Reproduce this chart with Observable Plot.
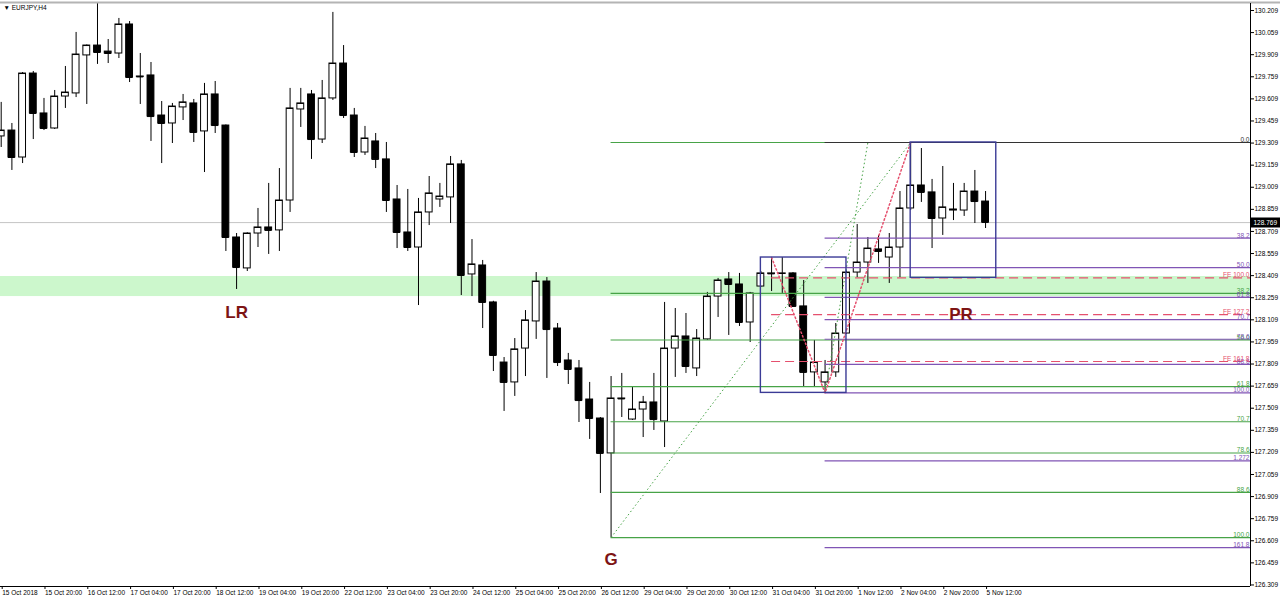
<!DOCTYPE html>
<html><head><meta charset="utf-8">
<script src="https://cdn.jsdelivr.net/npm/d3@7"></script>
<script src="https://cdn.jsdelivr.net/npm/@observablehq/plot@0.6"></script>
<style>
html,body{margin:0;padding:0;background:#fff;}
#chart{position:relative;width:1280px;height:602px;overflow:hidden;}
</style></head><body><div id="chart"></div>
<script>
// EURJPY H4 candles (bar index 0 = first visible bar)
const opens = [129.354,129.394,129.211,129.781,129.510,129.408,129.625,129.646,129.904,129.971,
129.930,129.917,130.114,129.761,129.768,129.496,129.442,129.551,129.578,129.388,
129.639,129.428,128.668,128.458,128.695,128.736,128.716,128.919,129.537,129.639,
129.333,129.612,129.849,129.496,129.245,129.320,129.198,128.926,128.702,128.600,
128.838,128.926,128.940,129.164,128.417,128.478,128.227,127.819,127.684,127.914,
128.098,128.369,128.050,127.833,127.779,127.568,127.439,127.202,127.575,127.432,
127.500,127.548,127.419,127.914,127.996,127.779,127.976,128.267,128.383,128.349,
128.091,128.335,128.424,128.421,128.424,128.200,127.752,127.684,127.752,128.016,
128.430,128.498,128.587,128.532,128.600,128.865,129.021,128.974,128.797,128.851,
128.851,128.980,128.912];
const highs = [129.585,129.442,129.788,129.795,129.612,129.666,129.829,130.060,129.975,130.257,
130.012,130.155,130.134,129.917,129.856,129.591,129.578,129.639,129.605,129.714,
129.727,129.432,128.695,128.700,128.865,129.035,129.136,129.680,129.680,129.666,
129.734,130.196,129.971,129.544,129.422,129.374,129.313,129.021,128.994,128.933,
129.082,129.035,129.218,129.191,128.654,128.512,128.235,127.853,127.982,128.172,
128.430,128.396,128.084,127.881,127.833,127.684,127.446,127.724,127.745,127.656,
127.589,127.745,128.227,128.186,128.152,128.043,128.295,128.390,128.430,128.424,
128.295,128.437,128.532,128.532,128.430,128.376,127.969,127.833,128.084,128.440,
128.756,128.668,128.682,128.695,128.980,129.313,129.272,129.062,129.150,129.035,
129.035,129.123,128.980];
const lows = [129.279,129.123,129.170,129.333,129.394,129.401,129.544,129.618,129.571,129.843,
129.849,129.883,129.720,129.571,129.320,129.170,129.306,129.462,129.313,129.109,
129.374,128.573,128.315,128.437,128.600,128.553,128.573,128.838,129.415,129.198,
129.306,129.598,129.476,129.211,129.225,129.136,128.838,128.593,128.573,128.206,
128.749,128.872,128.763,128.274,128.267,128.050,127.758,127.487,127.589,127.724,
127.976,127.711,127.792,127.670,127.412,127.297,126.930,126.631,127.446,127.426,
127.310,127.358,127.242,127.718,127.745,127.724,127.970,128.125,128.003,128.064,
127.955,128.330,128.301,128.288,128.195,127.656,127.650,127.613,127.718,128.010,
128.396,128.356,128.492,128.356,128.396,128.851,128.906,128.593,128.682,128.783,
128.811,128.763,128.729];
const closes = [129.394,129.211,129.781,129.510,129.408,129.625,129.652,129.910,129.971,129.924,
129.917,130.114,129.754,129.758,129.489,129.442,129.557,129.585,129.381,129.639,
129.428,128.668,128.464,128.695,128.736,128.716,128.919,129.544,129.578,129.333,
129.612,129.849,129.496,129.245,129.340,129.198,128.919,128.702,128.600,128.838,
128.967,128.946,129.164,128.410,128.485,128.227,127.867,127.684,127.908,128.105,
128.369,128.043,127.819,127.772,127.561,127.439,127.202,127.575,127.572,127.500,
127.548,127.432,127.914,127.996,127.792,127.982,128.267,128.376,128.349,128.091,
128.288,128.424,128.421,128.424,128.200,127.752,127.819,127.752,128.016,128.430,
128.498,128.593,128.573,128.600,128.865,129.021,128.974,128.797,128.872,128.858,
128.980,128.912,128.770];

// time axis labels (every 4th H4 bar)
const xTickBars = [0,4,8,12,16,20,24,28,32,36,40,44,48,52,56,60,64,68,72,76,80,84,88,92];
const xTickLabels = ["15 Oct 2018","15 Oct 20:00","16 Oct 12:00","17 Oct 04:00","17 Oct 20:00","18 Oct 12:00",
"19 Oct 04:00","19 Oct 20:00","22 Oct 12:00","23 Oct 04:00","23 Oct 20:00","24 Oct 12:00","25 Oct 04:00",
"25 Oct 20:00","26 Oct 12:00","29 Oct 04:00","29 Oct 20:00","30 Oct 12:00","31 Oct 04:00","31 Oct 20:00",
"1 Nov 12:00","2 Nov 04:00","2 Nov 20:00","5 Nov 12:00"];
const yTicks = [130.209,130.059,129.909,129.759,129.609,129.459,129.309,129.159,129.009,128.859,128.709,
128.559,128.409,128.259,128.109,127.959,127.809,127.659,127.509,127.359,127.209,127.059,126.909,126.759,
126.609,126.459,126.309];

// drawing objects
const greenFibLabels = ["0.0","38.2","50.0","61.8","70.7","78.6","88.6","100.0"];
const greenFibPrices = [129.313,128.289,127.972,127.656,127.417,127.205,126.937,126.631];
const purpleFibLabels = ["38.2","50.0","61.8","70.7","78.6","88.6","100.0","1.272","161.8"];
const purpleFibPrices = [128.664,128.463,128.262,128.111,127.977,127.807,127.613,127.151,126.562];
const feLabels = ["FE 100.0","FE 127.2","FE 161.8"];
const fePrices = [128.394,128.144,127.826];
const zigBars = [72,77,85];
const zigPrices = [128.532,127.613,129.313];
const trendFromBars = [57,77], trendFromPrices = [126.631,127.613];
const trendToBars = [85,81], trendToPrices = [129.313,129.313];
const boxBars1 = [71,85], boxBars2 = [79,93];
const boxTop = [128.532,129.313], boxBottom = [127.613,128.394];
const zoneLow = 128.267, zoneHigh = 128.403;
const lastPrice = 128.769;
const notes = ["LR","G","PR"], noteBars = [22,57,89.7], notePrices = [128.159,126.482,128.145];

const X0 = -0.065, X1 = 116.76, Y0 = 126.2986, Y1 = 130.2565;
const bars = opens.map((o,i)=>({i,o,h:highs[i],l:lows[i],c:closes[i],up:closes[i]>=o}));
const gf = greenFibLabels.map((t,k)=>({t,p:greenFibPrices[k]}));
const pf = purpleFibLabels.map((t,k)=>({t,p:purpleFibPrices[k]}));
const fe = feLabels.map((t,k)=>({t,p:fePrices[k]}));
const zig = zigBars.map((b,k)=>({b,p:zigPrices[k]}));
const trends = trendFromBars.map((b,k)=>({b1:b,p1:trendFromPrices[k],b2:trendToBars[k],p2:trendToPrices[k]}));
const boxes = boxBars1.map((b,k)=>({b1:b,b2:boxBars2[k],t:boxTop[k],bt:boxBottom[k]}));
const ann = notes.map((t,k)=>({t,b:noteBars[k],p:notePrices[k]}));
const W = 0.32;
const green = "#47a347", purple = "#8055b5", red = "#e5506e", boxC = "#3b3b96", darkRed = "#7d1414";

const chart = Plot.plot({
  width: 1280, height: 602,
  marginLeft: 0, marginRight: 30, marginTop: 3, marginBottom: 16,
  style: {background: "#fff", fontFamily: "'Liberation Sans', Arial, sans-serif", fontSize: "6.5px", overflow: "visible"},
  x: {type: "linear", domain: [X0, X1], axis: null, label: null},
  y: {type: "linear", domain: [Y0, Y1], axis: null, label: null},
  marks: [
    Plot.rect([0], {x1: X0, x2: X1, y1: zoneLow, y2: zoneHigh, fill: "#ccf7cc"}),
    Plot.ruleY([lastPrice], {x1: X0, x2: X1, stroke: "#c4c4c4"}),
    // candles
    Plot.ruleX(bars, {x: "i", y1: "l", y2: "h", stroke: "#000", strokeWidth: 1}),
    Plot.rect(bars, {x1: d=>d.i-W, x2: d=>d.i+W, y1: "o", y2: "c", fill: d=>d.up?"#fff":"#000", stroke: "#000", strokeWidth: 1}),
    Plot.ruleY(bars, {y: "c", x1: d=>d.i-W, x2: d=>d.i+W, stroke: "#000"}),
    // fibonacci objects
    Plot.ruleY(gf, {y: "p", x1: 57, x2: X1, stroke: green, strokeWidth: 1.2}),
    Plot.ruleY([greenFibPrices[0]], {x1: 77, x2: X1, stroke: "#333", strokeWidth: 1.2}),
    Plot.ruleY(pf, {y: "p", x1: 77, x2: X1, stroke: purple, strokeWidth: 1.2}),
    Plot.ruleY(fe, {y: "p", x1: 72, x2: X1, stroke: red, strokeWidth: 1.2, strokeDasharray: "9,5"}),
    Plot.link(trends, {x1: "b1", y1: "p1", x2: "b2", y2: "p2", stroke: green, strokeDasharray: "1.5,2.5"}),
    Plot.line(zig, {x: "b", y: "p", stroke: red, strokeDasharray: "1.5,2.5"}),
    Plot.rect(boxes, {x1: "b1", x2: "b2", y1: "t", y2: "bt", fill: "none", stroke: boxC, strokeWidth: 1.4}),
    Plot.text(gf, {x: X1, y: "p", text: "t", textAnchor: "end", lineAnchor: "bottom", dx: -1, dy: -0.5, fill: (d,k)=>k===0?"#333":green}),
    Plot.text(pf, {x: X1, y: "p", text: "t", textAnchor: "end", lineAnchor: "bottom", dx: -1, dy: -0.5, fill: purple}),
    Plot.text(fe, {x: X1, y: "p", text: "t", textAnchor: "end", lineAnchor: "bottom", dx: -1, dy: -0.5, fill: red}),
    Plot.text(ann, {x: "b", y: "p", text: "t", fill: darkRed, fontSize: 17, fontWeight: "bold", fontFamily: "Arial, 'Liberation Sans', sans-serif"}),
    // frame and axes
    Plot.ruleY([Y1], {x1: X0, x2: X1 + 3, stroke: "#b4b4b4", strokeWidth: 2, dy: -1}),
    Plot.ruleX([X1], {y1: Y0, y2: Y1, stroke: "#000"}),
    Plot.ruleY([Y0], {x1: X0, x2: X1, stroke: "#000"}),
    Plot.axisY({anchor: "right", ticks: yTicks, tickFormat: d3.format(".3f"), tickSize: 3, tickPadding: 1, fill: "#000"}),
    Plot.axisX({anchor: "bottom", ticks: xTickBars, tickFormat: d => xTickLabels[xTickBars.indexOf(d)], tickSize: 3, tickPadding: 1, textAnchor: "start", dx: 1, fill: "#000"}),
    Plot.ruleY([lastPrice], {x1: X1, x2: X1 + 3, stroke: "#000", strokeWidth: 10}),
    Plot.text([lastPrice], {x: X1, y: d=>d, text: d=>d.toFixed(3), fill: "#fff", textAnchor: "start", dx: 3}),
    Plot.text(["\u25BC EURJPY,H4"], {frameAnchor: "top-left", dx: 3, dy: 2, textAnchor: "start", lineAnchor: "top", fill: "#000"})
  ]
});
document.getElementById("chart").appendChild(chart);
</script></body></html>
